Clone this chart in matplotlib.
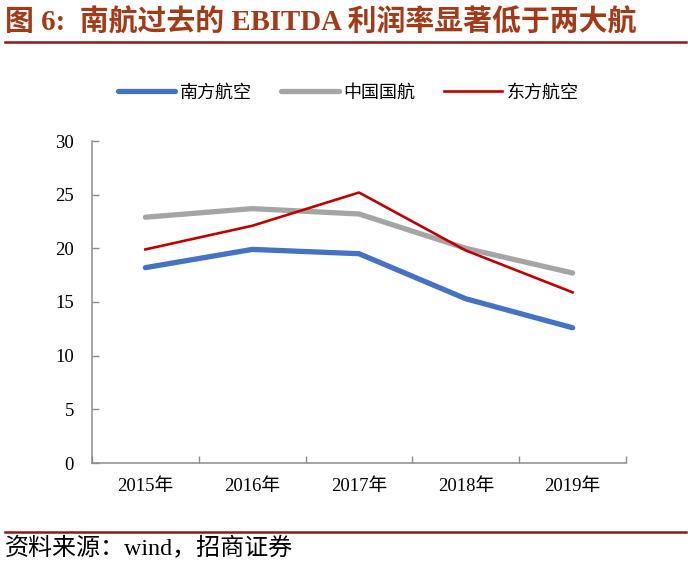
import matplotlib
matplotlib.use('Agg')
import matplotlib.pyplot as plt
from matplotlib.lines import Line2D

# Data
years = ['2015年', '2016年', '2017年', '2018年', '2019年']
csair = [18.2, 19.9, 19.5, 15.3, 12.6]      # 南方航空
airchina = [22.9, 23.7, 23.2, 20.0, 17.7]   # 中国国航
ceair = [19.9, 22.1, 25.2, 19.8, 15.9]      # 东方航空
series_names = ['南方航空', '中国国航', '东方航空']

fonts = ['Liberation Serif', 'Noto Sans CJK SC']
plt.rcParams['font.family'] = fonts

fig = plt.figure(figsize=(6.88, 5.69), dpi=100)
ax = fig.add_axes([92 / 688, 1 - 463 / 569, 534 / 688, 322 / 569])

x = range(len(years))
ax.plot(x, csair, color='#4472C4', lw=3.8, solid_capstyle='round', label=series_names[0])
ax.plot(x, airchina, color='#A5A5A5', lw=3.8, solid_capstyle='round', label=series_names[1])
ax.plot(x, ceair, color='#C00000', lw=1.9, label=series_names[2])

ax.set_xlim(-0.5, 4.5)
ax.set_ylim(0, 30)
ax.set_yticks(range(0, 31, 5))
# category boundaries carry the tick marks, labels sit at the centres
ax.set_xticks([i + 0.5 for i in range(-1, 5)], minor=False)
ax.set_xticklabels([])
ax.set_xticks(list(x), minor=True)
ax.set_xticklabels(years, minor=True)
ax.tick_params(axis='x', which='major', direction='in', length=5, color='#8C8C8C', width=1)
ax.tick_params(axis='x', which='minor', length=0, labelsize=13.5, pad=11)
ax.tick_params(axis='y', direction='in', length=5, color='#8C8C8C', width=1,
               labelsize=13.5, pad=13)
for s in ['top', 'right']:
    ax.spines[s].set_visible(False)
for s in ['left', 'bottom']:
    ax.spines[s].set_color('#8C8C8C')
    ax.spines[s].set_linewidth(1.1)

handles = [Line2D([], [], color='#4472C4', lw=3.8, solid_capstyle='round'),
           Line2D([], [], color='#A5A5A5', lw=3.8, solid_capstyle='round'),
           Line2D([], [], color='#C00000', lw=1.9)]
fig.legend(handles, series_names, loc='center', bbox_to_anchor=(348 / 688, 1 - 93 / 569),
           ncol=3, frameon=False, fontsize=13, handlelength=3.2, handletextpad=0.25,
           columnspacing=1.6)

# title + rules
fig.text(5 / 688, 1 - 23 / 569, '图 6:  南航过去的 EBITDA 利润率显著低于两大航',
         fontsize=20.8, fontweight='bold', color='#A33B19', va='center', ha='left')
fig.add_artist(Line2D([5 / 688, 686 / 688], [1 - 42 / 569] * 2, color='#8B1A1A', lw=1.8))
fig.add_artist(Line2D([5 / 688, 686 / 688], [1 - 532 / 569] * 2, color='#8B1A1A', lw=1.8))
fig.text(5 / 688, 1 - 549 / 569, '资料来源：wind，招商证券', fontsize=17.3,
         va='center', ha='left', color='black')

fig.savefig('out.png', dpi=100)
